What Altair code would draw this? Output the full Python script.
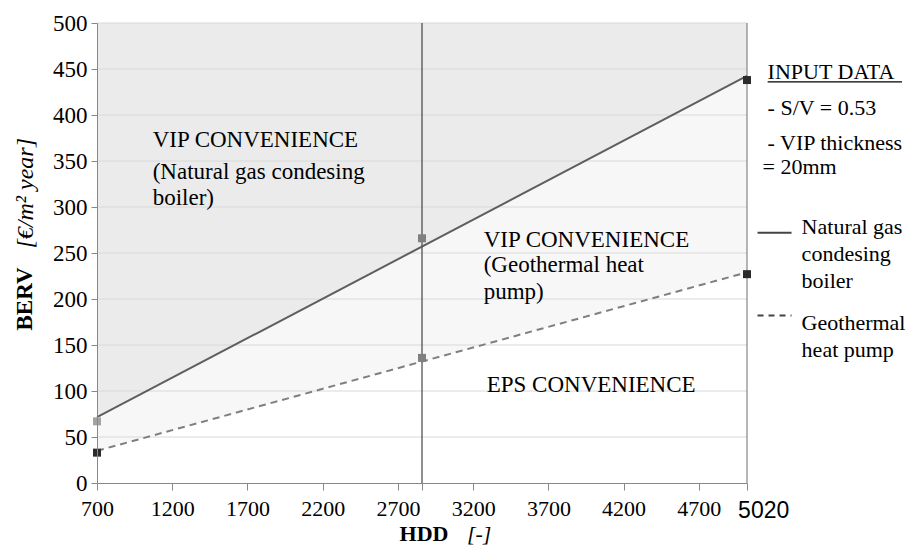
import altair as alt
import pandas as pd
import numpy as np

# ---- data ----
hdd = [700, 2860, 5020]
gas_berv = [67, 266, 438]          # natural gas condensing boiler
geo_berv = [33, 136, 227]          # geothermal heat pump
gas_marker_colors = ["#a3a3a3", "#808080", "#2b2b2b"]
geo_marker_colors = ["#2b2b2b", "#808080", "#2b2b2b"]
x_tick_values = [700, 1200, 1700, 2200, 2700, 2860, 3200, 3700, 4200, 4700, 5020]
y_tick_values = [0, 50, 100, 150, 200, 250, 300, 350, 400, 450, 500]
x_min, x_max = 700, 5020
y_min, y_max = 0, 500

SERIF = "Liberation Serif"
SANS = "Liberation Sans"
FS = 23      # texts inside the plot and tick labels
FS_R = 22    # texts at the right side

# linear trend lines (as Excel trendlines)
gas_fit = np.polyfit(hdd, gas_berv, 1)
geo_fit = np.polyfit(hdd, geo_berv, 1)
fit_x = [x_min, x_max]
fits = pd.DataFrame({
    "hdd": fit_x,
    "gas": [float(np.polyval(gas_fit, v)) for v in fit_x],
    "geo": [float(np.polyval(geo_fit, v)) for v in fit_x],
    "top": [y_max, y_max],
})

points = pd.DataFrame({
    "hdd": hdd * 2,
    "berv": gas_berv + geo_berv,
    "color": gas_marker_colors + geo_marker_colors,
})

xs = alt.Scale(domain=[x_min, x_max], nice=False, zero=False)
ys = alt.Scale(domain=[y_min, y_max], nice=False, zero=False)

W, H = 650, 460

X = lambda f: alt.X(f, scale=xs, title=None)
Y = lambda f: alt.Y(f, scale=ys, title=None)

# regions (first layer carries the axes)
area_top = alt.Chart(fits).mark_area(color="#ebebeb").encode(
    x=alt.X("hdd:Q", scale=xs, axis=alt.Axis(
        values=x_tick_values, format="d", title=None, grid=False,
        labelExpr="(datum.value == 5020 || datum.value == 2860) ? '' : datum.label",
        labelFont=SERIF, labelFontSize=22, labelColor="black", labelPadding=8,
        tickSize=7, tickColor="#888888", domainColor="#888888", labelFlush=False,
        labelOverlap=False, zindex=1)),
    y=alt.Y("gas:Q", scale=ys, axis=alt.Axis(
        values=y_tick_values, title=None, grid=False,
        labelFont=SERIF, labelFontSize=FS, labelColor="black", labelPadding=4,
        tickSize=6, tickColor="#888888", domainColor="#888888",
        labelFlush=False, labelOverlap=False, zindex=1)),
    y2="top:Q",
)
area_mid = alt.Chart(fits).mark_area(color="#f7f7f7").encode(
    x=X("hdd:Q"), y=Y("geo:Q"), y2="gas:Q",
)

# horizontal gridlines at the y ticks
grid_df = pd.DataFrame({"berv": y_tick_values[1:], "x0": x_min, "x1": x_max})
grid = alt.Chart(grid_df).mark_rule(color="#d9d9d9", strokeWidth=1).encode(
    x=X("x0:Q"), x2="x1:Q", y=Y("berv:Q"),
)

# vertical lines at 2860 and at 5020
vlines = pd.DataFrame({"hdd": [2860, 5020], "y0": [0, 0], "y1": [y_max, y_max],
                       "c": ["#333333", "#7a7a7a"]})
vrules = alt.Chart(vlines).mark_rule(strokeWidth=1.1).encode(
    x=X("hdd:Q"), y=Y("y0:Q"), y2="y1:Q",
    color=alt.Color("c:N", scale=None),
)

gas_line = alt.Chart(fits).mark_line(color="#5e5e5e", strokeWidth=2).encode(
    x=X("hdd:Q"), y=Y("gas:Q"),
)
geo_line = alt.Chart(fits).mark_line(color="#7f7f7f", strokeWidth=2, strokeDash=[7, 5]).encode(
    x=X("hdd:Q"), y=Y("geo:Q"),
)

markers = alt.Chart(points).mark_square(size=64, opacity=1).encode(
    x=X("hdd:Q"), y=Y("berv:Q"),
    color=alt.Color("color:N", scale=None),
)

# ---- annotation texts inside the plot (data coordinates) ----
notes = pd.DataFrame({
    "hdd": [1070, 1070, 1070, 3270, 3270, 3270, 3290],
    "berv": [373, 338, 310, 264, 237, 208, 106],
    "text": ["VIP CONVENIENCE", "(Natural gas condesing", "boiler)",
             "VIP CONVENIENCE", "(Geothermal heat", "pump)", "EPS CONVENIENCE"],
})
note_text = alt.Chart(notes).mark_text(
    align="left", baseline="middle", font=SERIF, fontSize=FS, color="black"
).encode(x=X("hdd:Q"), y=Y("berv:Q"), text="text:N")

# ---- texts at the right side ----
side = pd.DataFrame({
    "hdd": [5157, 5157, 5157, 5123, 5383, 5383, 5383, 5383, 5383],
    "berv": [447, 408, 370, 343, 278, 249, 220, 174, 145],
    "text": ["INPUT DATA", "- S/V = 0.53", "- VIP thickness", "= 20mm",
             "Natural gas", "condesing", "boiler", "Geothermal", "heat pump"],
})
side_text = alt.Chart(side).mark_text(
    align="left", baseline="middle", font=SERIF, fontSize=FS_R, color="black"
).encode(x=X("hdd:Q"), y=Y("berv:Q"), text="text:N")

# underline of INPUT DATA and legend samples
deco = pd.DataFrame({
    "x0": [5157, 5090, 5090],
    "x1": [6050, 5316, 5316],
    "yv": [436, 272, 182],
})
underline = alt.Chart(deco.iloc[[0]]).mark_rule(color="black", strokeWidth=1.2).encode(
    x=X("x0:Q"), x2="x1:Q", y=Y("yv:Q"),
)
leg_solid = alt.Chart(deco.iloc[[1]]).mark_rule(color="#444444", strokeWidth=2).encode(
    x=X("x0:Q"), x2="x1:Q", y=Y("yv:Q"),
)
leg_dash = alt.Chart(deco.iloc[[2]]).mark_rule(color="#444444", strokeWidth=2,
                                                strokeDash=[6, 5]).encode(
    x=X("x0:Q"), x2="x1:Q", y=Y("yv:Q"),
)

# 5020 tick label (sans-serif in the reference)
last_lab = alt.Chart(pd.DataFrame({"hdd": [5131], "berv": [-30], "t": ["5020"]})).mark_text(
    align="center", baseline="middle", font=SANS, fontSize=23, color="black"
).encode(x=X("hdd:Q"), y=Y("berv:Q"), text="t:N")

# axis titles: bold name + italic unit
xt = pd.DataFrame({"hdd": [2873, 3240], "berv": [-55, -55], "t": ["HDD", "[-]"]})
x_title_b = alt.Chart(xt.iloc[[0]]).mark_text(
    align="center", baseline="middle", font=SERIF, fontSize=22, fontWeight="bold", color="black"
).encode(x=X("hdd:Q"), y=Y("berv:Q"), text="t:N")
x_title_i = alt.Chart(xt.iloc[[1]]).mark_text(
    align="center", baseline="middle", font=SERIF, fontSize=22, fontStyle="italic", color="black"
).encode(x=X("hdd:Q"), y=Y("berv:Q"), text="t:N")

yt = pd.DataFrame({"hdd": [220, 225], "berv": [200, 315], "t": ["BERV", "[€/m² year]"]})
y_title_b = alt.Chart(yt.iloc[[0]]).mark_text(
    align="center", baseline="middle", angle=270, font=SERIF, fontSize=FS,
    fontWeight="bold", color="black"
).encode(x=X("hdd:Q"), y=Y("berv:Q"), text="t:N")
y_title_i = alt.Chart(yt.iloc[[1]]).mark_text(
    align="center", baseline="middle", angle=270, font=SERIF, fontSize=24,
    fontStyle="italic", color="black"
).encode(x=X("hdd:Q"), y=Y("berv:Q"), text="t:N")

chart = alt.layer(
    area_top, area_mid, grid, vrules, gas_line, geo_line, markers,
    note_text, side_text, underline, leg_solid, leg_dash, last_lab,
    x_title_b, x_title_i, y_title_b, y_title_i,
).properties(
    width=W, height=H,
    autosize=alt.AutoSizeParams(type="none"),
    padding={"left": 89, "top": 15, "right": 159, "bottom": 63},
    background="white",
).configure_view(stroke=None)

chart.save("out.html", embed_options={"renderer": "svg", "actions": False})
